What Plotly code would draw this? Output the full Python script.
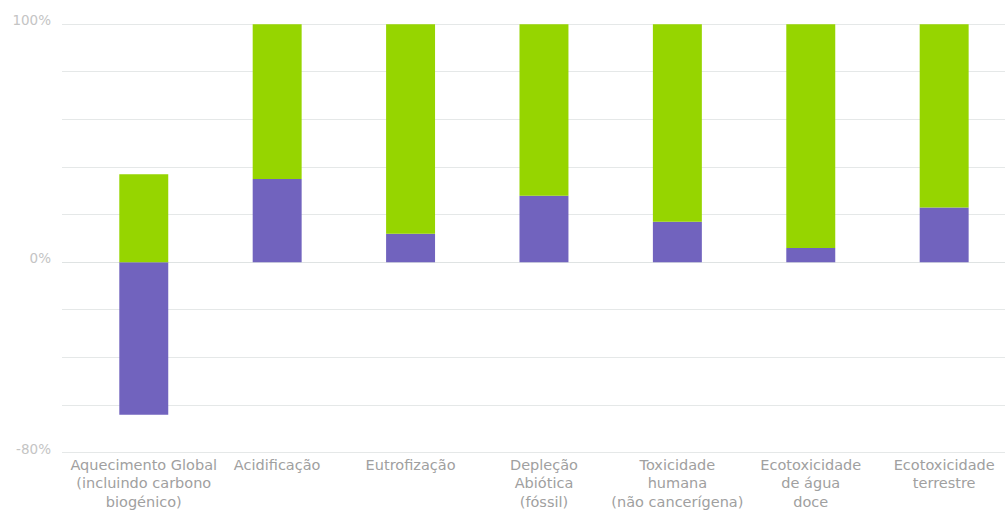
import plotly.graph_objects as go

categories = [
    "Aquecimento Global<br>(incluindo carbono<br>biogénico)",
    "Acidificação",
    "Eutrofização",
    "Depleção<br>Abiótica<br>(fóssil)",
    "Toxicidade<br>humana<br>(não cancerígena)",
    "Ecotoxicidade<br>de água<br>doce",
    "Ecotoxicidade<br>terrestre",
]
purple_values = [-64, 35, 12, 28, 17, 6, 23]
green_values = [37, 65, 88, 72, 83, 94, 77]

y_tick_vals = [100, 80, 60, 40, 20, 0, -20, -40, -60, -80]
y_tick_text = ["100%", "", "", "", "", "0%", "", "", "", "-80%"]

PURPLE = "#7163be"
GREEN = "#96d500"

fig = go.Figure()
fig.add_trace(go.Bar(x=categories, y=purple_values, marker=dict(color=PURPLE, line=dict(width=0)),
                     hoverinfo="skip"))
fig.add_trace(go.Bar(x=categories, y=green_values, marker=dict(color=GREEN, line=dict(width=0)),
                     hoverinfo="skip"))

fig.update_layout(
    width=1005, height=513,
    margin=dict(l=62, r=0, t=23, b=59, pad=0),
    paper_bgcolor="white", plot_bgcolor="white",
    barmode="relative", bargap=0.633,
    showlegend=False,
    font=dict(family="DejaVu Sans", size=14, color="#a3a3a3"),
)
fig.update_xaxes(
    type="category",
    range=[-0.613, 6.456],
    showgrid=False, zeroline=False, showline=False,
    ticks="", tickfont=dict(family="DejaVu Sans", size=14.5, color="#a0a0a0"),
    tickangle=0,
)
fig.update_yaxes(
    range=[-80.5, 100.5],
    tickmode="array", tickvals=y_tick_vals, ticktext=y_tick_text,
    showgrid=True, gridcolor="#e5e8e8", gridwidth=1,
    zeroline=True, zerolinecolor="#dfe3e3", zerolinewidth=1,
    showline=False, ticks="",
    tickfont=dict(family="DejaVu Sans", size=13.5, color="#c4c4c4"),
    ticklabelstandoff=10, ticklabelshift=-4,
)

fig.write_html("out.html")
